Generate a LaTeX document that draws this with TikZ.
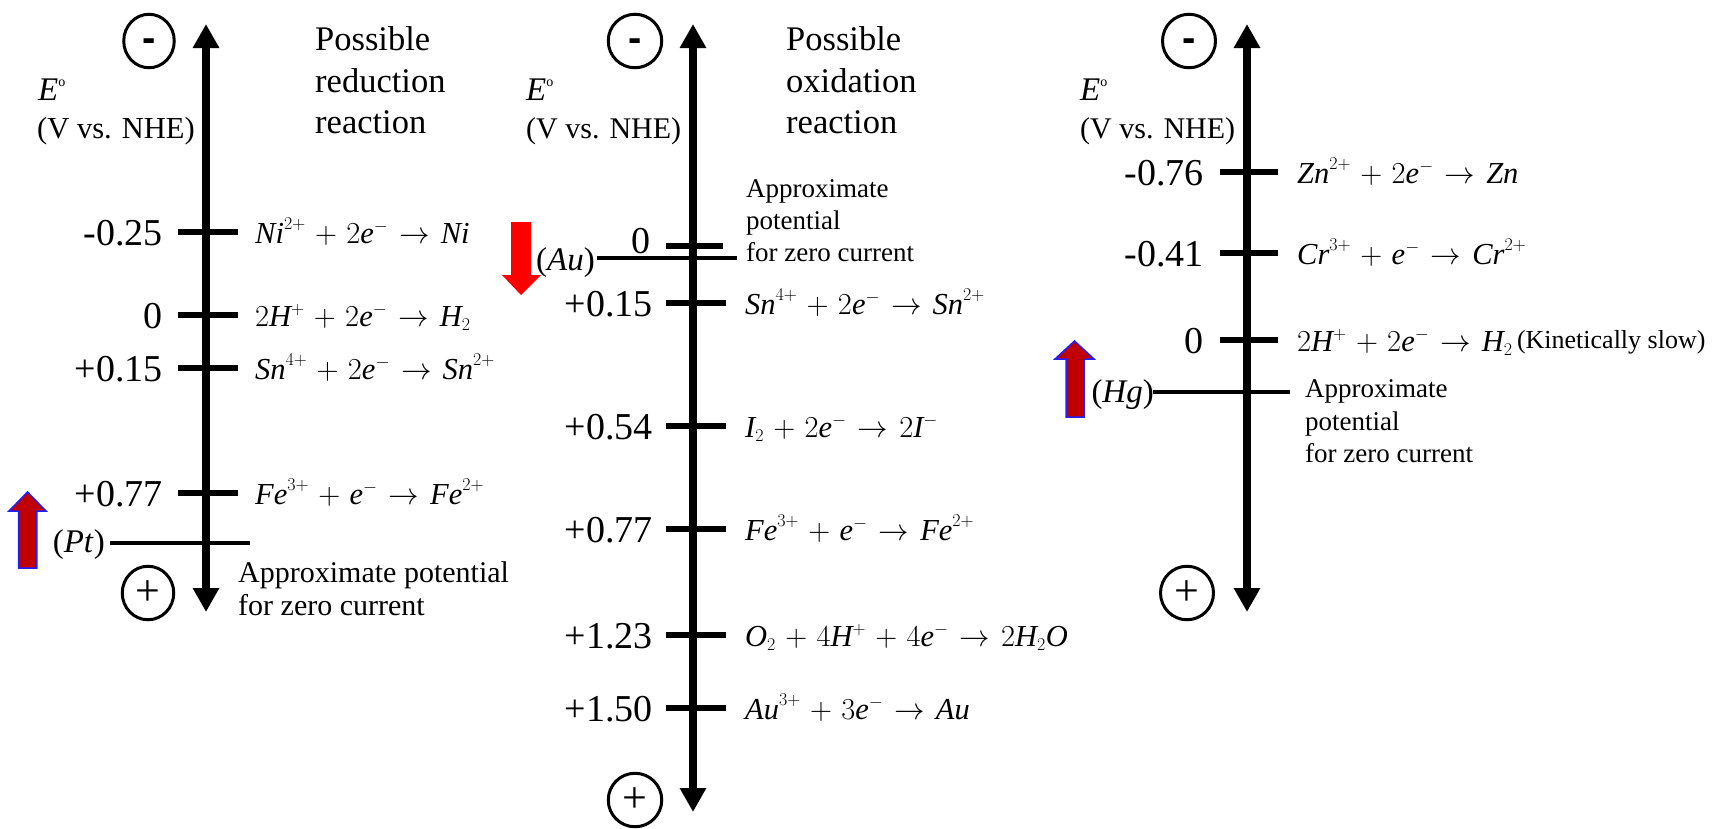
\RequirePackage{fix-cm}
\documentclass[tikz,border=0pt]{standalone}
\usepackage{fontspec}
\setmainfont{Liberation Serif}
\newfontfamily\signfont{Liberation Sans}
\usetikzlibrary{arrows.meta,shapes.geometric}
\DeclareMathSizes{30.5}{30.5}{18}{13}
\medmuskip=5.5mu plus 2mu minus 4mu
\thickmuskip=6.5mu plus 5mu
\definecolor{arrowred}{HTML}{C00000}
\definecolor{edgeblue}{HTML}{1F1FFF}
\newcommand{\fsz}[1]{\fontsize{#1}{#1}\selectfont}
\newcommand{\ch}[1]{\mathit{#1}}
\tikzset{
  axisline/.style={line width=8pt, {Triangle[width=25pt,length=24pt]}-{Triangle[width=25pt,length=24pt]}},
  tickmark/.style={line width=5.5pt},
  zeroline/.style={line width=4.5pt},
  numlab/.style={anchor=base east, inner sep=0pt, font=\fsz{38}},
  rxnlab/.style={anchor=base west, inner sep=0pt, font=\fsz{30.5}},
  plainlab/.style={anchor=base west, inner sep=0pt, font=\fsz{#1}},
  metallab/.style={anchor=base east, inner sep=0pt, font=\fsz{33}},
  blocktext/.style={anchor=north west, inner sep=0pt, align=left},
  pole/.style={draw, ellipse, line width=3pt, inner sep=0pt},
  minussign/.style={inner sep=0pt, font=\signfont\bfseries\fsz{40}},
  plussign/.style={inner sep=0pt, font=\fsz{44}},
  upbig/.style={fill=arrowred, draw=edgeblue, line width=1.5pt},
  downbig/.style={fill=red},
}
\begin{document}
\begin{tikzpicture}[x=1pt,y=-1pt]
\useasboundingbox (0,0) rectangle (1723,828);
\fill[white] (0,0) rectangle (1723,828);

% ---------------- Panel 1 ----------------
\coordinate (a1t) at (206,24); \coordinate (a1b) at (206,612);
\draw[axisline] (a1b) -- (a1t);
\node[pole, minimum width=50.5pt, minimum height=53.5pt] (m1) at (149,41) {};
\node[minussign] (m1s) at (149,44.8) {-};
\node[pole, minimum width=51.5pt, minimum height=53.5pt] (q1) at (148,593) {};
\node[plussign] (q1s) at (q1) {+};
\node[plainlab=33] (e1) at (38,100) {\textit{E}\raisebox{0.42em}{\fsz{14}o}};
\node[plainlab=30.5] (v1) at (37,138) {(V vs. NHE)};
\node[blocktext, font=\fontsize{34.5}{41.5}\selectfont] (h1) at (315,26.5) {Possible\\reduction\\reaction};
\foreach \y/\v/\r [count=\i] in {232/{-0.25}/{\ch{Ni}^{2+}+2\ch{e}^{-}\rightarrow \ch{Ni}},
    315/{0}/{2\ch{H}^{+}+2\ch{e}^{-}\rightarrow \ch{H}_{2}},
    368/{+0.15}/{\ch{Sn}^{4+}+2\ch{e}^{-}\rightarrow \ch{Sn}^{2+}},
    493/{+0.77}/{\ch{Fe}^{3+}+\ch{e}^{-}\rightarrow \ch{Fe}^{2+}}}{
  \node[numlab] (p1n\i) at (163,\y+13) {\v};
  \node[rxnlab] (p1r\i) at (255,\y+11) {$\r$};
  \draw[tickmark] (178,\y) -- (238,\y);
}
\node[metallab] (pt) at (105,552) {(\textit{Pt})};
\coordinate (z1a) at (110,543); \coordinate (z1b) at (250,543);
\draw[zeroline] (z1a) -- (z1b);
\node[blocktext, font=\fontsize{30}{33}\selectfont] (ap1) at (238,561.5) {Approximate potential\\for zero current};
\draw[upbig] (18.5,568) -- (18.5,511) -- (9,511) -- (27.5,492) -- (46,511) -- (36.8,511) -- (36.8,568) -- cycle;

% ---------------- Panel 2 ----------------
\coordinate (a2t) at (693,24); \coordinate (a2b) at (693,812);
\draw[axisline] (a2b) -- (a2t);
\node[pole, minimum width=53.5pt, minimum height=53.5pt] (m2) at (635,41) {};
\node[minussign] (m2s) at (635,44.8) {-};
\node[pole, minimum width=53.5pt, minimum height=53.5pt] (q2) at (635,800) {};
\node[plussign] (q2s) at (q2) {+};
\node[plainlab=33] (e2) at (526,100) {\textit{E}\raisebox{0.42em}{\fsz{14}o}};
\node[plainlab=30] (v2) at (526,138) {(V vs. NHE)};
\node[blocktext, font=\fontsize{34.5}{41.5}\selectfont] (h2) at (786,26.5) {Possible\\oxidation\\reaction};
\node[numlab] (p2n0) at (651,253) {0};
\draw[tickmark] (666,246) -- (723,246);
\foreach \y/\v/\r [count=\i] in {303/{+0.15}/{\ch{Sn}^{4+}+2\ch{e}^{-}\rightarrow \ch{Sn}^{2+}},
    426/{+0.54}/{\ch{I}_{2}+2\ch{e}^{-}\rightarrow 2\ch{I}^{-}},
    529/{+0.77}/{\ch{Fe}^{3+}+\ch{e}^{-}\rightarrow \ch{Fe}^{2+}},
    635/{+1.23}/{\ch{O}_{2}+4\ch{H}^{+}+4\ch{e}^{-}\rightarrow 2\ch{H}_{2}\ch{O}},
    708/{+1.50}/{\ch{Au}^{3+}+3\ch{e}^{-}\rightarrow \ch{Au}}}{
  \node[numlab] (p2n\i) at (653,\y+13) {\v};
  \node[rxnlab] (p2r\i) at (745,\y+11) {$\r$};
  \draw[tickmark] (666,\y) -- (726,\y);
}
\node[metallab] (au) at (595,270.5) {(\textit{Au})};
\coordinate (z2a) at (597,258); \coordinate (z2b) at (737,258);
\draw[zeroline] (z2a) -- (z2b);
\node[blocktext, font=\fontsize{27}{32}\selectfont] (ap2) at (746,179.5) {Approximate\\potential\\for zero current};
\fill[downbig] (511,222) -- (531,222) -- (531,275) -- (541,275) -- (521,295) -- (502,275) -- (511,275) -- cycle;

% ---------------- Panel 3 ----------------
\coordinate (a3t) at (1247,24); \coordinate (a3b) at (1247,612);
\draw[axisline] (a3b) -- (a3t);
\node[pole, minimum width=53pt, minimum height=53.5pt] (m3) at (1189,41) {};
\node[minussign] (m3s) at (1189,44.8) {-};
\node[pole, minimum width=53pt, minimum height=53.5pt] (q3) at (1187,593) {};
\node[plussign] (q3s) at (q3) {+};
\node[plainlab=33] (e3) at (1080,100) {\textit{E}\raisebox{0.42em}{\fsz{14}o}};
\node[plainlab=30] (v3) at (1080,138) {(V vs. NHE)};
\foreach \y/\v/\r [count=\i] in {172/{-0.76}/{\ch{Zn}^{2+}+2\ch{e}^{-}\rightarrow \ch{Zn}},
    253/{-0.41}/{\ch{Cr}^{3+}+\ch{e}^{-}\rightarrow \ch{Cr}^{2+}},
    340/{0}/{2\ch{H}^{+}+2\ch{e}^{-}\rightarrow \ch{H}_{2}}}{
  \node[numlab] (p3n\i) at (1204,\y+13) {\v};
  \node[rxnlab] (p3r\i) at (1297,\y+11) {$\r$};
  \draw[tickmark] (1220,\y) -- (1278,\y);
}
\node[anchor=base west, inner sep=0pt, font=\fsz{26}] (kin) at ([xshift=4pt,yshift=3pt]p3r3.base east) {(Kinetically slow)};
\node[metallab] (hg) at (1154,402) {(\textit{Hg})};
\coordinate (z3a) at (1153,392); \coordinate (z3b) at (1290,392);
\draw[zeroline] (z3a) -- (z3b);
\node[blocktext, font=\fontsize{27}{32.5}\selectfont] (ap3) at (1305,379.5) {Approximate\\potential\\for zero current};
\draw[upbig] (1066,417) -- (1066,359) -- (1055,359) -- (1074.5,341) -- (1094,359) -- (1084,359) -- (1084,417) -- cycle;
\end{tikzpicture}
\end{document}
